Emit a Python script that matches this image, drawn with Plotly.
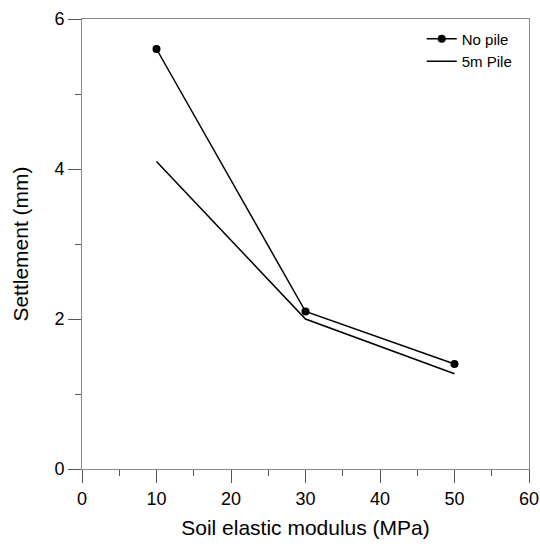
import plotly.graph_objects as go

modulus = [10, 30, 50]
no_pile = [5.6, 2.1, 1.4]
pile_5m = [4.1, 2.0, 1.27]

FONT = "Liberation Sans, Arial, sans-serif"

fig = go.Figure()
fig.add_trace(go.Scatter(x=modulus, y=no_pile, name="No pile", mode="lines+markers",
                         line=dict(color="black", width=1.5),
                         marker=dict(symbol="circle", size=8, color="black")))
fig.add_trace(go.Scatter(x=modulus, y=pile_5m, name="5m Pile", mode="lines",
                         line=dict(color="black", width=1.5)))

axis_common = dict(showgrid=False, zeroline=False, showline=True, linecolor="#8a8a8a",
                   linewidth=1, mirror=True, ticks="outside", ticklen=13, tickcolor="#555",
                   automargin=False, ticklabeloverflow="allow",
                   tickfont=dict(family=FONT, size=18, color="black"),
                   minor=dict(ticks="outside", ticklen=6, tickcolor="#555"))

fig.update_xaxes(range=[0, 60], dtick=10, minor_dtick=5,
                 title=dict(text="Soil elastic modulus (MPa)", standoff=12,
                            font=dict(family=FONT, size=21, color="black")),
                 **axis_common)
fig.update_yaxes(range=[0, 6], dtick=2, minor_dtick=1,
                 title=dict(text="Settlement (mm)", standoff=20,
                            font=dict(family=FONT, size=21, color="black")),
                 **axis_common)

fig.update_layout(
    width=540, height=547,
    margin=dict(l=82, r=11, t=19, b=78),
    plot_bgcolor="white", paper_bgcolor="white",
    showlegend=True,
    legend=dict(x=0.76, y=0.992, xanchor="left", yanchor="top",
                bgcolor="rgba(0,0,0,0)",
                font=dict(family=FONT, size=15, color="black"),
                tracegroupgap=0),
)

fig.write_html("out.html",
               config={"displayModeBar": False},
               post_script="document.body.style.margin='0';document.body.style.overflow='hidden';")
